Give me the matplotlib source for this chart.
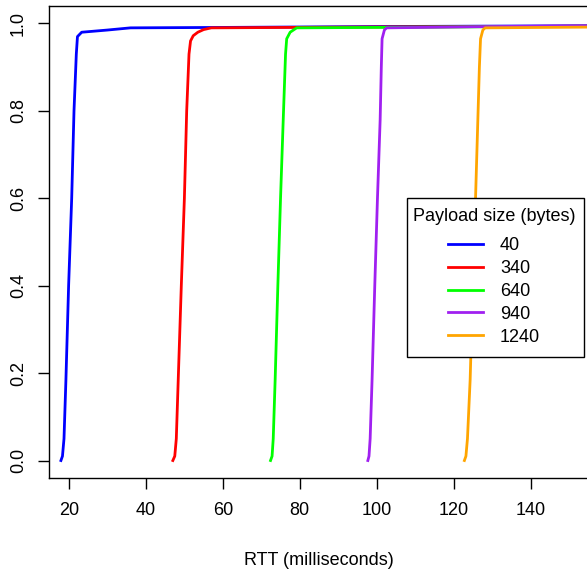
import matplotlib
matplotlib.use("Agg")
import matplotlib.pyplot as plt
from matplotlib.patches import Rectangle

plt.rcParams['font.family'] = ['Liberation Sans', 'DejaVu Sans']

# CDF of RTT per payload size
payload_labels = ['40', '340', '640', '940', '1240']
payload_colors = ['#0000FF', '#FF0000', '#00FF00', '#A020F0', '#FFA500']

rtt_40 = [17.9, 18.3, 18.7, 19.2, 19.9, 20.7, 21.3, 21.9, 22.2, 23.3, 30.0, 36.0, 60.0, 100.0, 160.0]
cdf_40 = [0.0, 0.01, 0.05, 0.185, 0.40, 0.60, 0.80, 0.93, 0.97, 0.98, 0.985, 0.99, 0.991, 0.993, 0.995]

rtt_340 = [47.0, 47.5, 47.9, 48.4, 49.2, 50.0, 50.6, 51.2, 51.6, 52.3, 53.5, 55.0, 57.0, 100.0, 160.0]
cdf_340 = [0.0, 0.01, 0.05, 0.185, 0.40, 0.60, 0.80, 0.93, 0.96, 0.972, 0.98, 0.986, 0.99, 0.992, 0.994]

rtt_640 = [72.4, 72.8, 73.1, 73.6, 74.3, 75.0, 75.7, 76.3, 76.6, 77.5, 79.2, 120.0, 160.0]
cdf_640 = [0.0, 0.01, 0.05, 0.185, 0.40, 0.60, 0.78, 0.93, 0.965, 0.98, 0.99, 0.992, 0.994]

rtt_940 = [97.7, 98.0, 98.3, 98.8, 99.5, 100.2, 100.9, 101.2, 101.4, 102.0, 102.6, 130.0, 160.0]
cdf_940 = [0.0, 0.01, 0.05, 0.185, 0.40, 0.60, 0.78, 0.90, 0.965, 0.985, 0.99, 0.993, 0.995]

rtt_1240 = [122.8, 123.2, 123.6, 124.3, 125.0, 125.7, 126.3, 126.7, 127.0, 127.6, 128.2, 160.0]
cdf_1240 = [0.0, 0.01, 0.05, 0.185, 0.40, 0.60, 0.78, 0.90, 0.965, 0.985, 0.99, 0.992]

series = [(rtt_40, cdf_40), (rtt_340, cdf_340), (rtt_640, cdf_640),
          (rtt_940, cdf_940), (rtt_1240, cdf_1240)]

x_ticks = [20, 40, 60, 80, 100, 120, 140]
y_ticks = [0.0, 0.2, 0.4, 0.6, 0.8, 1.0]

W, H = 587, 574
fig = plt.figure(figsize=(W / 100, H / 100), dpi=100)
ax = fig.add_axes([49 / W, 96 / H, 540 / W, 472 / H])

for (xs, ys), lab, col in zip(series, payload_labels, payload_colors):
    ax.plot(xs, ys, color=col, lw=2.0, label=lab, solid_joinstyle='round')

ax.set_xlim(14.8, 155.2)
ax.set_ylim(-0.04, 1.04)
ax.set_xticks(x_ticks)
ax.set_xticklabels([str(t) for t in x_ticks], fontsize=13)
ax.set_yticks(y_ticks)
ax.set_yticklabels(['%.1f' % t for t in y_ticks], fontsize=13, rotation=90, va='center')
ax.tick_params(axis='both', direction='out', length=8, width=1.0, color='black')
ax.tick_params(axis='x', pad=9.5)
ax.tick_params(axis='y', pad=8)
for sp in ax.spines.values():
    sp.set_linewidth(1.0)
    sp.set_color('black')

ax.set_xlabel('RTT (milliseconds)', fontsize=13, va='center')
ax.xaxis.set_label_coords(0.5, -0.175)

# legend box drawn separately (R style: extra room below the entries)
ax.add_patch(Rectangle((0.663, 0.2564), 0.328, 0.3369, transform=ax.transAxes,
                       facecolor='white', edgecolor='black', lw=1.0, zorder=4))
leg = ax.legend(title='Payload size (bytes)', loc='upper left',
                bbox_to_anchor=(0.659, 0.589), fontsize=13, title_fontsize=13,
                frameon=False, handlelength=1.9, handletextpad=0.95,
                labelspacing=0.33, borderpad=0.45, borderaxespad=0)
leg.set_zorder(5)
leg._legend_box.sep = 8.5

fig.savefig('out.png', dpi=100)
